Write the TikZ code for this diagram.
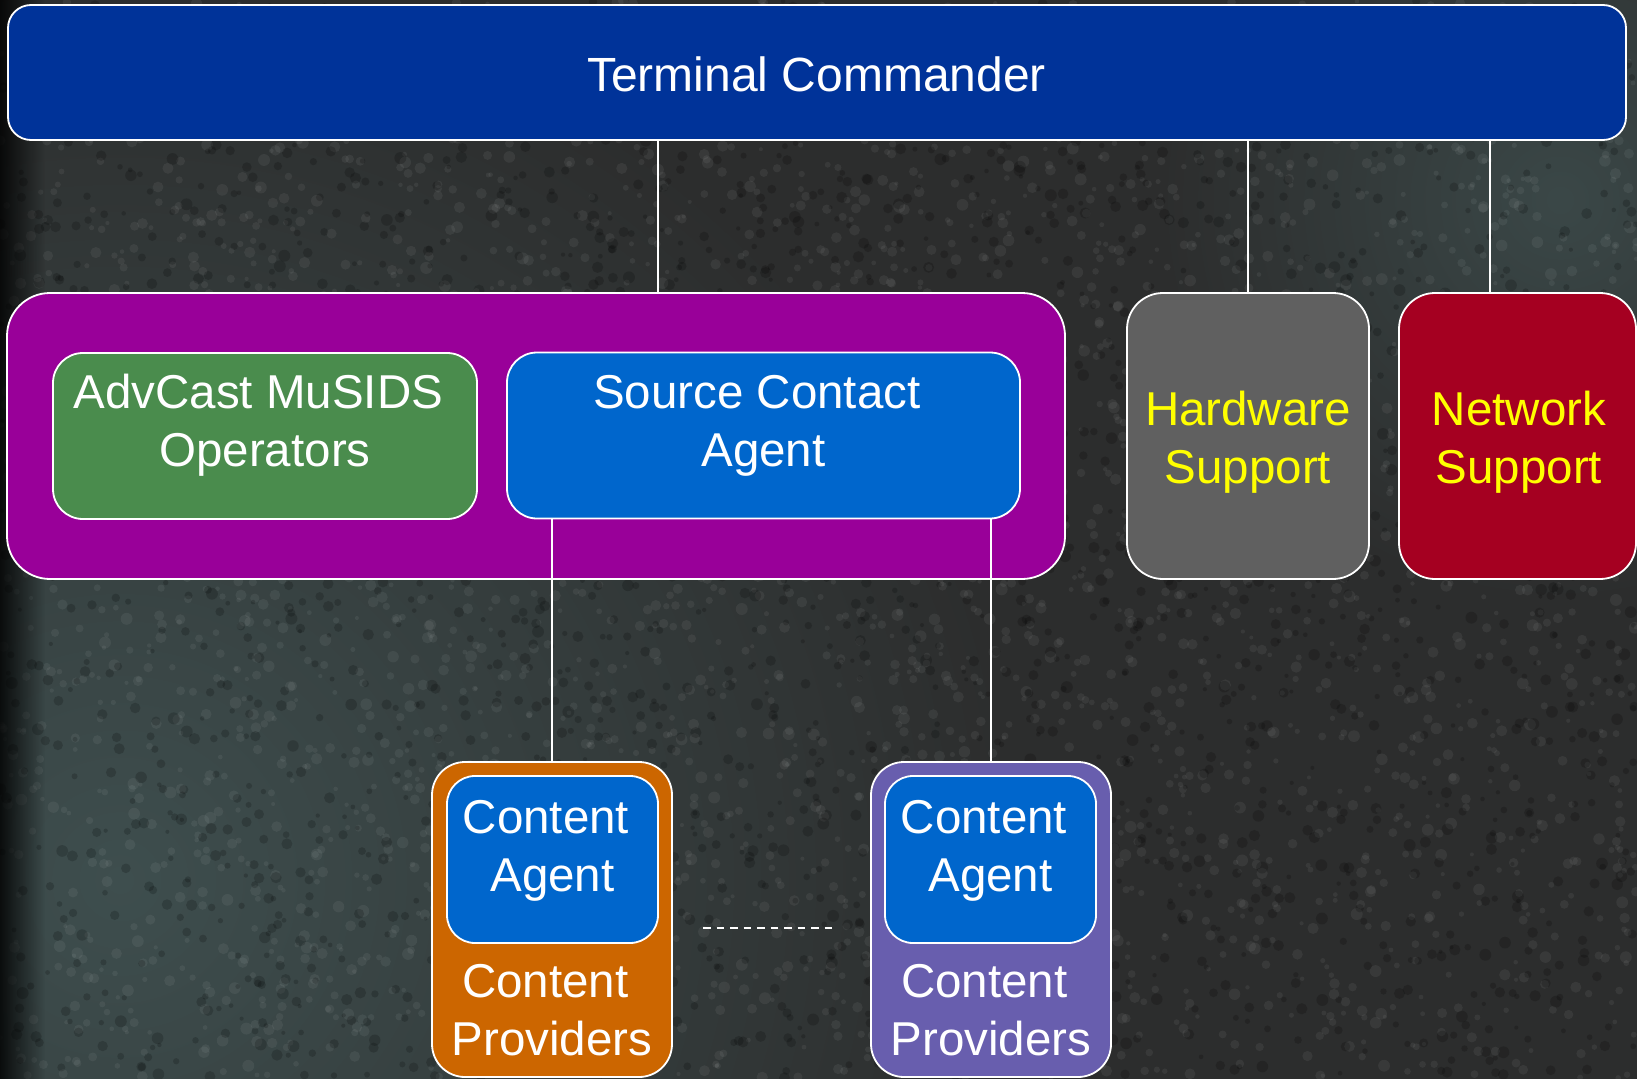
\documentclass[tikz,border=0pt]{standalone}
\usepackage{fontspec}
\setmainfont{Liberation Sans}
\usetikzlibrary{calc,fadings}
\definecolor{bgbase}{RGB}{44,45,45}
\definecolor{bgteal}{RGB}{62,78,78}
\definecolor{tcblue}{RGB}{0,51,153}
\definecolor{grppurple}{RGB}{153,0,153}
\definecolor{advgreen}{RGB}{74,140,77}
\definecolor{agblue}{RGB}{0,102,204}
\definecolor{hwgray}{RGB}{96,96,96}
\definecolor{nwred}{RGB}{165,0,33}
\definecolor{cporange}{RGB}{204,102,0}
\definecolor{cpviolet}{RGB}{104,94,174}
\definecolor{lblyellow}{RGB}{255,255,0}
\newcommand\twolines[2]{\begin{tabular}[t]{@{}c@{}}#1\\#2\end{tabular}}
\tikzset{
  blk/.style={draw=white, line width=1.8pt, inner sep=0pt, outer sep=0pt},
  lbl/.style={text=white, font=\fontsize{47.5}{58.5}\selectfont, inner sep=0pt, anchor=base},
  ylbl/.style={lbl, text=lblyellow},
  wire/.style={draw=white, line width=1.6pt},
  dots/.style={draw=white, line width=2pt, dash pattern=on 7.5pt off 6pt},
}
\begin{document}
\begin{tikzpicture}[x=1pt,y=-1pt]
\useasboundingbox (0,0) rectangle (1637,1078);
% background
\fill[bgbase] (-10,-10) rectangle (1647,1088);
\begin{scope}
\clip (-10,-10) rectangle (1647,1088);
\shade[inner color=bgteal, outer color=bgbase] (120,880) circle[radius=900];
\shade[inner color=bgteal!80!bgbase, outer color=bgbase] (1560,200) circle[radius=400];
\end{scope}
\pgfmathsetseed{7}
\foreach \i in {1,...,3500} {
  \pgfmathsetmacro\xx{rnd*1637}
  \pgfmathsetmacro\yy{rnd*1078}
  \pgfmathsetmacro\ss{2+rnd*4}
  \fill[white, opacity=0.06] (\xx,\yy) circle[radius=\ss];
}
\foreach \i in {1,...,2500} {
  \pgfmathsetmacro\xx{rnd*1637}
  \pgfmathsetmacro\yy{rnd*1078}
  \pgfmathsetmacro\ss{2+rnd*4}
  \fill[black, opacity=0.18] (\xx,\yy) circle[radius=\ss];
}
\fill[black, path fading=east] (-10,-10) rectangle (45,1088);

% boxes
\node[blk, fill=tcblue, rounded corners=23pt, minimum width=1618pt, minimum height=135pt] (tc) at (817,72.5) {};
\node[blk, fill=grppurple, rounded corners=43pt, minimum width=1058pt, minimum height=286pt] (grp) at (536,436) {};
\node[blk, fill=advgreen, rounded corners=30pt, minimum width=424pt, minimum height=166pt] (adv) at (265,436) {};
\node[blk, fill=agblue, rounded corners=30pt, minimum width=513pt, minimum height=166pt] (sca) at (763.5,435.5) {};
\node[blk, fill=hwgray, rounded corners=36pt, minimum width=242pt, minimum height=286pt] (hw) at (1248,436) {};
\node[blk, fill=nwred, rounded corners=36pt, minimum width=237pt, minimum height=286pt] (nw) at (1517.5,436) {};
\node[blk, fill=cporange, rounded corners=33pt, minimum width=240pt, minimum height=315pt] (cp1) at (552,919.5) {};
\node[blk, fill=agblue, rounded corners=28pt, minimum width=211pt, minimum height=167pt] (ca1) at (552.5,859.5) {};
\node[blk, fill=cpviolet, rounded corners=33pt, minimum width=240pt, minimum height=315pt] (cp2) at (991,919.5) {};
\node[blk, fill=agblue, rounded corners=28pt, minimum width=211pt, minimum height=167pt] (ca2) at (990.5,859.5) {};

% connectors
\coordinate (xg) at (658,0);
\coordinate (xn) at (1490,0);
\coordinate (d1) at (703,928);
\coordinate (d2) at (837,928);
\draw[wire] (tc.south -| xg) -- (grp.north -| xg);
\draw[wire] (tc.south -| hw.north) -- (hw.north);
\draw[wire] (tc.south -| xn) -- (nw.north -| xn);
\draw[wire] (sca.south -| cp1.north) -- (cp1.north);
\draw[wire] (sca.south -| cp2.north) -- (cp2.north);
\draw[dots] (d1) -- (d2);

% labels
\node[lbl, font=\fontsize{48}{58.5}\selectfont] (tct) at (816.5,92) {Terminal Commander};
\node[lbl] (advt) at (265,408) {\twolines{AdvCast MuSIDS\hspace*{.278em}}{Operators}};
\node[lbl] (scat) at (763.5,408) {\twolines{Source Contact\hspace*{.278em}}{Agent}};
\node[ylbl] (hwt) at (1248,425) {\twolines{Hardware}{Support}};
\node[ylbl] (nwt) at (1519,425) {\twolines{Network}{Support}};
\node[lbl] (cat1) at (552.5,833) {\twolines{Content\hspace*{.278em}}{Agent}};
\node[lbl] (cpt1) at (552,997) {\twolines{Content\hspace*{.278em}}{Providers}};
\node[lbl] (cat2) at (990.5,833) {\twolines{Content\hspace*{.278em}}{Agent}};
\node[lbl] (cpt2) at (991,997) {\twolines{Content\hspace*{.278em}}{Providers}};
\end{tikzpicture}
\end{document}
